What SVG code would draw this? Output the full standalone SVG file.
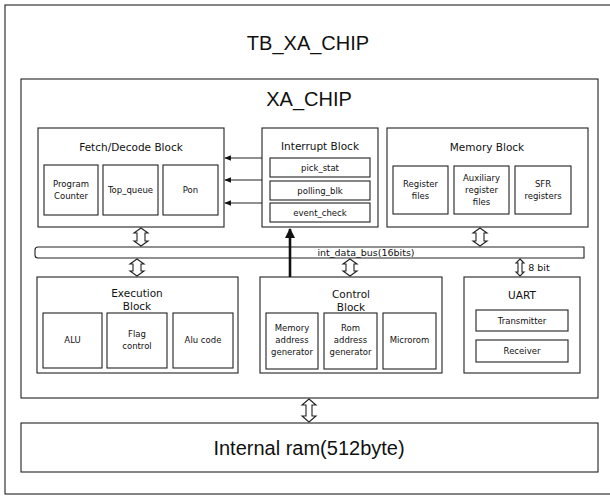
<svg xmlns="http://www.w3.org/2000/svg" width="610" height="496" viewBox="0 0 610 496">
<defs>
<style>
.box{fill:#fff;stroke:#222;stroke-width:1.1}
.t{font-family:"Liberation Sans",Arial,sans-serif;fill:#111;text-anchor:middle;dominant-baseline:central}
.big{font-size:20px}
.ram{font-size:20px}
.ttl{font-family:"DejaVu Sans","Liberation Sans",sans-serif;font-size:10.5px}
.sm{font-family:"DejaVu Sans","Liberation Sans",sans-serif;font-size:8.5px}
.bl{font-family:"DejaVu Sans","Liberation Sans",sans-serif;font-size:9.5px}
.dbl{fill:#fff;stroke:#222;stroke-width:1.1}
.ln{stroke:#222;stroke-width:1.1;fill:none}
</style>
<marker id="ah" viewBox="0 0 10 10" refX="9" refY="5" markerWidth="6" markerHeight="6" orient="auto"><path d="M0,1 L10,5 L0,9 Z" fill="#111"/></marker>
<marker id="ahb" viewBox="0 0 10 10" refX="9" refY="5" markerWidth="4" markerHeight="4" orient="auto"><path d="M0,0 L10,5 L0,10 Z" fill="#111"/></marker>
</defs>
<rect width="610" height="496" fill="#fff"/>
<g id="tb"><rect class="box" x="5" y="5" width="612" height="489"/><text class="t big" x="308" y="43">TB_XA_CHIP</text></g>
<g id="xa"><rect class="box" x="21" y="79" width="577" height="319"/><text class="t big" x="309" y="99">XA_CHIP</text></g>
<g id="fetch"><rect class="box" x="38" y="128" width="186" height="99"/><text class="t ttl" x="131" y="147">Fetch/Decode Block</text>
<rect class="box" x="44" y="165" width="54" height="50"/><text class="t sm" x="71" y="184">Program</text><text class="t sm" x="71" y="196">Counter</text>
<rect class="box" x="103" y="165" width="55" height="50"/><text class="t sm" x="130.5" y="190">Top_queue</text>
<rect class="box" x="163" y="165" width="55" height="50"/><text class="t sm" x="190.5" y="190">Pon</text></g>
<g id="interrupt"><rect class="box" x="262" y="128" width="116" height="99"/><text class="t ttl" x="320" y="146">Interrupt Block</text>
<rect class="box" x="270" y="158" width="100" height="19"/><text class="t sm" x="320" y="167.5">pick_stat</text>
<rect class="box" x="270" y="181" width="100" height="19"/><text class="t sm" x="320" y="190.5">polling_blk</text>
<rect class="box" x="270" y="203" width="100" height="19"/><text class="t sm" x="320" y="212.5">event_check</text></g>
<g id="memory"><rect class="box" x="387" y="128" width="201" height="99"/><text class="t ttl" x="487" y="147">Memory Block</text>
<rect class="box" x="393" y="166" width="55" height="48"/><text class="t sm" x="420.5" y="184">Register</text><text class="t sm" x="420.5" y="196">files</text>
<rect class="box" x="454" y="166" width="55" height="48"/><text class="t sm" x="481.5" y="178">Auxiliary</text><text class="t sm" x="481.5" y="190">register</text><text class="t sm" x="481.5" y="202">files</text>
<rect class="box" x="515" y="166" width="56" height="48"/><text class="t sm" x="543" y="184">SFR</text><text class="t sm" x="543" y="196">registers</text></g>
<g id="bus"><path class="box" d="M38,247 H584 V258 H38 Q35,258 35,255 V250 Q35,247 38,247 Z"/><text class="t bl" x="366" y="252.5">int_data_bus(16bits)</text></g>
<g id="execution"><rect class="box" x="37" y="277" width="201" height="96"/><text class="t ttl" x="137" y="293">Execution</text><text class="t ttl" x="137" y="306">Block</text>
<rect class="box" x="43" y="313" width="59" height="55"/><text class="t sm" x="72.5" y="340">ALU</text>
<rect class="box" x="107" y="313" width="60" height="55"/><text class="t sm" x="137" y="334">Flag</text><text class="t sm" x="137" y="346">control</text>
<rect class="box" x="173" y="313" width="60" height="55"/><text class="t sm" x="203" y="340">Alu code</text></g>
<g id="control"><rect class="box" x="260" y="277" width="182" height="96"/><text class="t ttl" x="351" y="294">Control</text><text class="t ttl" x="351" y="307">Block</text>
<rect class="box" x="266" y="313" width="52" height="56"/><text class="t sm" x="292" y="328">Memory</text><text class="t sm" x="292" y="340">address</text><text class="t sm" x="292" y="352">generator</text>
<rect class="box" x="324" y="313" width="53" height="56"/><text class="t sm" x="350.5" y="328">Rom</text><text class="t sm" x="350.5" y="340">address</text><text class="t sm" x="350.5" y="352">generator</text>
<rect class="box" x="383" y="313" width="53" height="56"/><text class="t sm" x="409.5" y="340">Microrom</text></g>
<g id="uart"><rect class="box" x="464" y="277" width="116" height="96"/><text class="t ttl" x="522" y="295">UART</text>
<rect class="box" x="476" y="310" width="92" height="21"/><text class="t sm" x="522" y="320.5">Transmitter</text>
<rect class="box" x="476" y="340" width="92" height="22"/><text class="t sm" x="522" y="351">Receiver</text></g>
<g id="ram"><rect class="box" x="21" y="423" width="577" height="49"/><text class="t ram" x="309" y="448">Internal ram(512byte)</text></g>
<g id="connectors">
<line class="ln" x1="262" y1="158" x2="225" y2="158" marker-end="url(#ah)"/>
<line class="ln" x1="262" y1="180" x2="225" y2="180" marker-end="url(#ah)"/>
<line class="ln" x1="262" y1="203" x2="225" y2="203" marker-end="url(#ah)"/>
<line x1="290" y1="277" x2="290" y2="229" stroke="#111" stroke-width="2.6" marker-end="url(#ahb)"/>
<path class="dbl" d="M141,228 L148,233 L145,233 L145,241 L148,241 L141,246 L134,241 L137,241 L137,233 L134,233 Z"/>
<path class="dbl" d="M137,259 L144,264 L141,264 L141,271 L144,271 L137,276 L130,271 L133,271 L133,264 L130,264 Z"/>
<path class="dbl" d="M480,228 L487,233 L484,233 L484,241 L487,241 L480,246 L473,241 L476,241 L476,233 L473,233 Z"/>
<path class="dbl" d="M350,259 L357,264 L354,264 L354,271 L357,271 L350,276 L343,271 L346,271 L346,264 L343,264 Z"/>
<path class="dbl" d="M520,259 L524,263 L522,263 L522,272 L524,272 L520,276 L516,272 L518,272 L518,263 L516,263 Z"/>
<text class="t bl" x="539" y="267">8 bit</text>
<path class="dbl" d="M309,399 L316,405 L312,405 L312,416 L316,416 L309,422 L302,416 L306,416 L306,405 L302,405 Z"/>
</g>
</svg>
